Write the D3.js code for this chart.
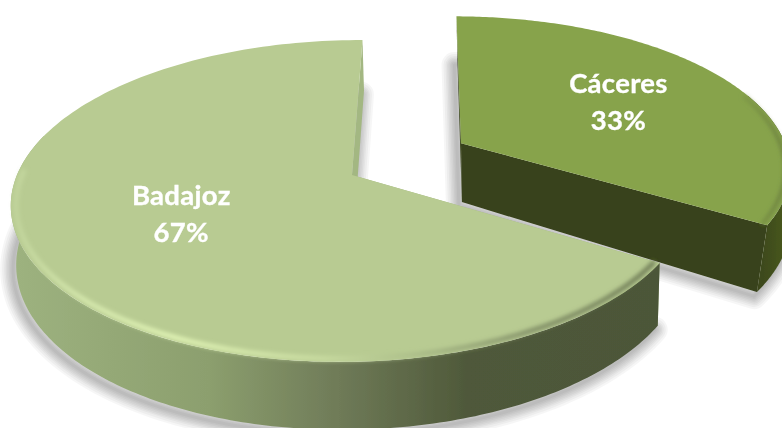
<!DOCTYPE html>
<html><head><meta charset="utf-8">
<script src="https://cdn.jsdelivr.net/npm/d3@7"></script>
<style>html,body{margin:0;padding:0;background:#fff}svg{display:block}</style></head>
<body><svg id="c" width="782" height="428"></svg>
<script>
const categories = ["Cáceres", "Badajoz"];
const values = [33.5, 66.5];
const percentLabels = ["33%", "67%"];
const topColors = ["#87a34c", "#b8cb92"];
const wallColors = ["#38421a", "#a3b782"];

const W = 782, H = 428;
const vx = 413, horizon = -796, L = 971, r = 0.1614, Rpx = 335;
const offsets = [
  {x: 49.6, t: -0.21, f: 0.59, dy: -1, depth: 63, k: 2, shrink: 0.995, cornerShrink: 0.97, cornerFrom: 106, from: 70, to: null, rimTo: null},
  {x: -61, t: 0, f: 0.55, dy: -5, depth: 58, k: 1, shrink: 0.995, cornerShrink: 0.995, cornerFrom: 400, from: null, to: 285, rimTo: 272}
];
const toRad = d => d * Math.PI / 180;

function proj(o, theta, rad, low) {
  let sh = o.shrink;
  const c0 = toRad(o.cornerFrom), c1 = toRad(122);
  if (theta > c0 && o.cornerFrom < 360) sh += (o.cornerShrink - o.shrink) * Math.min(1, (theta - c0) / (c1 - c0));
  const q = rad * (low ? sh : 1);
  const wx = o.x + Rpx * q * Math.sin(theta);
  const t = o.t - q * Math.cos(theta);
  const s = 1 / (1 - r * t);
  let X = vx + wx * s;
  let Y = horizon + L * s + (low ? o.depth * Math.pow(s, o.k) : 0);
  if (low) X = 620 + (X - 620) * 0.994;
  return [X, Y];
}
const pie = d3.pie().sort(null).startAngle(toRad(0.4)).endAngle(toRad(360.4));
const arcs = pie(values);
const line = d3.line();
const sweep = (a, b) => d3.range(0, 181).map(i => a + (b - a) * i / 180);

const svg = d3.select("#c");
const defs = svg.append("defs");
function blur(id, sd) {
  defs.append("filter").attr("id", id).attr("filterUnits", "userSpaceOnUse")
    .attr("x", -50).attr("y", -50).attr("width", W + 100).attr("height", H + 100)
    .append("feGaussianBlur").attr("stdDeviation", sd);
}
blur("rim", 2); blur("soft", 0.55); blur("txt", 0.35);
function grad(id, stops, x1, x2) {
  const g = defs.append("linearGradient").attr("id", id).attr("gradientUnits", "userSpaceOnUse")
    .attr("x1", x1).attr("x2", x2).attr("y1", 0).attr("y2", 0);
  stops.forEach(s => g.append("stop").attr("offset", s[0]).attr("stop-color", s[1]));
}
grad("side1", [[0, "#9db27f"], [0.3, "#8c9f6e"], [0.5, "#6f7b58"], [0.7, "#4f593a"], [1, "#4c5639"]], 15, 660);
grad("rim1", [[0, "#c2d59d"], [0.1, "#d6e9ae"], [0.25, "#e4f7b8"], [0.48, "#c9dca1"], [0.62, "#aabc88"], [0.8, "#7f8c65"], [1, "#6d7a54"]], 15, 660);
grad("side0", [[0, "#38421a"], [0.9, "#38421a"], [1, "#46551f"]], 460, 782);
grad("rim0", [[0, "#87a34c"], [0.88, "#7b9544"], [1, "#66793a"]], 460, 782);

const faceD = (d, i) => {
  const o = offsets[i];
  return line([proj(o, 0, 0), ...sweep(d.startAngle, d.endAngle).map(a => proj(o, a, 1))]) + "Z";
};
const span = (d, i) => {
  const o = offsets[i];
  return [o.from === null ? d.startAngle : toRad(o.from), o.to === null ? d.endAngle : toRad(o.to)];
};
const sideD = (d, i) => {
  const o = offsets[i], [a, b] = span(d, i), th = sweep(a, b);
  return line([...th.map(x => proj(o, x, 1)), ...th.slice().reverse().map(x => proj(o, x, 1, true))]) + "Z";
};
const wallD = (o, a) => line([proj(o, 0, 0), proj(o, a, 1), proj(o, a, 1, true), proj(o, 0, 0, true)]) + "Z";

// soft drop shadow built from stacked translucent outlines of each slice's lower edge
const shadows = svg.append("g").attr("transform", "translate(-3,4)");
arcs.forEach((d, i) => {
  const o = offsets[i], th = sweep(d.startAngle, d.endAngle);
  const outline = line([proj(o, 0, 0, true), ...th.map(a => proj(o, a, 1, true))]) + "Z";
  [26, 22, 18, 15, 12, 9, 6, 3].forEach(w =>
    shadows.append("path").attr("d", outline).attr("fill", "none")
      .attr("stroke", "#000").attr("stroke-opacity", 0.035)
      .attr("stroke-width", w).attr("stroke-linejoin", "round"));
});

const art = svg.append("g").attr("filter", "url(#soft)");
arcs.forEach((d, i) => {
  const o = offsets[i], g = art.append("g");
  [d.startAngle, d.endAngle].forEach(a =>
    g.append("path").attr("d", wallD(o, a)).attr("fill", wallColors[i]));
  g.append("path").attr("d", sideD(d, i)).attr("fill", `url(#side${i})`);
  g.append("path").attr("d", faceD(d, i)).attr("fill", topColors[i]);
  const [from] = span(d, i);
  const to = o.rimTo === null ? d.endAngle : toRad(o.rimTo);
  g.append("path").attr("d", line(sweep(from, to).map(a => proj(o, a, 0.985))))
    .attr("fill", "none").attr("stroke", `url(#rim${i})`).attr("stroke-width", i ? 4.5 : 3)
    .attr("stroke-linecap", "butt").attr("filter", "url(#rim)");
});

svg.selectAll("text.lab").data(arcs).join("text").attr("class", "lab")
  .attr("text-anchor", "middle").attr("fill", "#fff").attr("filter", "url(#txt)")
  .attr("stroke", "#fff").attr("stroke-width", 0.35)
  .attr("font-family", "Lato, 'Open Sans', sans-serif").attr("font-weight", 700)
  .attr("font-size", 27.5).attr("letter-spacing", 0.3)
  .each(function (d, i) {
    const o = offsets[i], mid = (d.startAngle + d.endAngle) / 2, p = proj(o, mid, o.f);
    const t = d3.select(this);
    t.append("tspan").attr("x", p[0]).attr("y", p[1] + o.dy - 9).text(categories[i]);
    t.append("tspan").attr("x", p[0]).attr("y", p[1] + o.dy + 28).text(percentLabels[i]);
  });
</script></body></html>
